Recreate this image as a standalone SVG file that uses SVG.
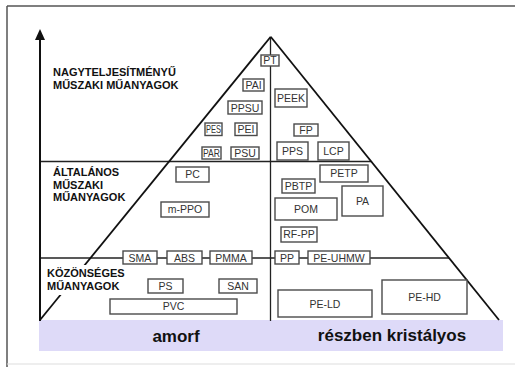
<svg xmlns="http://www.w3.org/2000/svg" width="515" height="367" viewBox="0 0 515 367">
<style>
.bx rect{fill:#fff;stroke:#4a4a4a;stroke-width:1.4}
.bx text{font-family:"Liberation Sans",Arial,sans-serif;font-size:10.5px;fill:#333;text-anchor:middle}
.cat{font-family:"Liberation Sans",Arial,sans-serif;font-size:11px;font-weight:bold;fill:#111}
.big{font-family:"Liberation Sans",Arial,sans-serif;font-size:17px;font-weight:bold;fill:#111;text-anchor:middle}
.ln{stroke:#222;stroke-width:1.3;fill:none}
.sl{stroke:#111;stroke-width:1.8;fill:none}
</style>
<defs>
<marker id="ah" markerWidth="12" markerHeight="10" refX="0" refY="5" orient="auto" markerUnits="userSpaceOnUse">
<path d="M0,0 L11,5 L0,10 Z" fill="#111"/>
</marker>
</defs>
<rect x="0" y="0" width="515" height="367" fill="#fff"/>
<g id="frame">
<line x1="7" y1="6" x2="515" y2="6" stroke="#555" stroke-width="1.5"/>
<line x1="7" y1="6" x2="7" y2="367" stroke="#555" stroke-width="1.5"/>
<line x1="7" y1="364" x2="515" y2="364" stroke="#ddd" stroke-width="1"/>
</g>
<g id="band">
<rect x="39" y="320" width="464" height="31" fill="#dedaf8"/>
<text class="big" x="176" y="342">amorf</text>
<text class="big" x="392" y="341">részben kristályos</text>
</g>
<g id="connectors">
<line class="ln" x1="40" y1="161.5" x2="371" y2="161.5"/>
<line class="ln" x1="40" y1="258" x2="449" y2="258"/>
<line class="ln" x1="270.5" y1="37" x2="270.5" y2="321"/>
<line class="sl" x1="270.7" y1="36.7" x2="40" y2="320"/>
<line class="sl" x1="270.7" y1="36.7" x2="499" y2="320"/>
<line x1="40" y1="321" x2="40" y2="40" stroke="#111" stroke-width="2" marker-end="url(#ah)"/>
</g>
<g id="cat-high">
<text class="cat" x="53" y="76">NAGYTELJESÍTMÉNYŰ</text>
<text class="cat" x="53" y="88.5">MŰSZAKI MŰANYAGOK</text>
</g>
<g id="cat-general">
<text class="cat" x="53" y="176">ÁLTALÁNOS</text>
<text class="cat" x="53" y="188.5">MŰSZAKI</text>
<text class="cat" x="53" y="201">MŰANYAGOK</text>
</g>
<g id="cat-common">
<rect x="46" y="265" width="82" height="30" fill="#fff"/>
<text class="cat" x="47" y="277">KÖZÖNSÉGES</text>
<text class="cat" x="47" y="290">MŰANYAGOK</text>
</g>
<g id="PT" class="bx"><rect x="261" y="55" width="18" height="11"/><text x="270" y="64">PT</text></g>
<g id="PAI" class="bx"><rect x="243" y="79" width="21" height="12"/><text x="253.5" y="89">PAI</text></g>
<g id="PEEK" class="bx"><rect x="275" y="89" width="32" height="18"/><text x="291" y="101.5">PEEK</text></g>
<g id="PPSU" class="bx"><rect x="228" y="101" width="34" height="13"/><text x="245" y="111.5">PPSU</text></g>
<g id="PES" class="bx"><rect x="205" y="123" width="17" height="12.5"/><text x="213.5" y="133" textLength="15" lengthAdjust="spacingAndGlyphs">PES</text></g>
<g id="PEI" class="bx"><rect x="235" y="123" width="22" height="12.5"/><text x="246" y="133">PEI</text></g>
<g id="FP" class="bx"><rect x="294" y="124" width="24" height="12"/><text x="306" y="134">FP</text></g>
<g id="PAR" class="bx"><rect x="202" y="147" width="19" height="12"/><text x="211.5" y="157" textLength="17" lengthAdjust="spacingAndGlyphs">PAR</text></g>
<g id="PSU" class="bx"><rect x="231" y="147" width="28" height="12"/><text x="245" y="157">PSU</text></g>
<g id="PPS" class="bx"><rect x="277" y="142" width="31" height="18"/><text x="292.5" y="154.5">PPS</text></g>
<g id="LCP" class="bx"><rect x="318" y="142" width="31" height="18"/><text x="333.5" y="154.5">LCP</text></g>
<g id="PC" class="bx"><rect x="176" y="167" width="33" height="15"/><text x="192.5" y="178">PC</text></g>
<g id="m-PPO" class="bx"><rect x="161" y="202" width="48" height="15"/><text x="185" y="213">m-PPO</text></g>
<g id="PETP" class="bx"><rect x="320" y="165" width="48" height="17"/><text x="344" y="177">PETP</text></g>
<g id="PBTP" class="bx"><rect x="282" y="179" width="33" height="14"/><text x="298.5" y="190">PBTP</text></g>
<g id="POM" class="bx"><rect x="275" y="198" width="62" height="22"/><text x="306" y="213">POM</text></g>
<g id="PA" class="bx"><rect x="342" y="186" width="41" height="30"/><text x="362.5" y="204.5">PA</text></g>
<g id="RF-PP" class="bx"><rect x="281" y="227" width="36" height="15"/><text x="299" y="238">RF-PP</text></g>
<g id="SMA" class="bx"><rect x="123" y="251" width="34" height="13"/><text x="140" y="261.5">SMA</text></g>
<g id="ABS" class="bx"><rect x="167" y="251" width="35" height="13"/><text x="184.5" y="261.5">ABS</text></g>
<g id="PMMA" class="bx"><rect x="210" y="251" width="42" height="13"/><text x="231" y="261.5">PMMA</text></g>
<g id="PP" class="bx"><rect x="275" y="251" width="24" height="13"/><text x="287" y="261.5">PP</text></g>
<g id="PE-UHMW" class="bx"><rect x="308" y="251" width="62" height="13"/><text x="339" y="261.5">PE-UHMW</text></g>
<g id="PS" class="bx"><rect x="148" y="279" width="35" height="14"/><text x="165.5" y="290">PS</text></g>
<g id="SAN" class="bx"><rect x="219" y="279" width="38" height="14"/><text x="238" y="290">SAN</text></g>
<g id="PVC" class="bx"><rect x="110" y="299" width="127" height="15"/><text x="173.5" y="310">PVC</text></g>
<g id="PE-LD" class="bx"><rect x="278" y="290" width="94" height="27"/><text x="325" y="308">PE-LD</text></g>
<g id="PE-HD" class="bx"><rect x="382" y="280" width="85" height="34"/><text x="424.5" y="300.5">PE-HD</text></g>
</svg>
